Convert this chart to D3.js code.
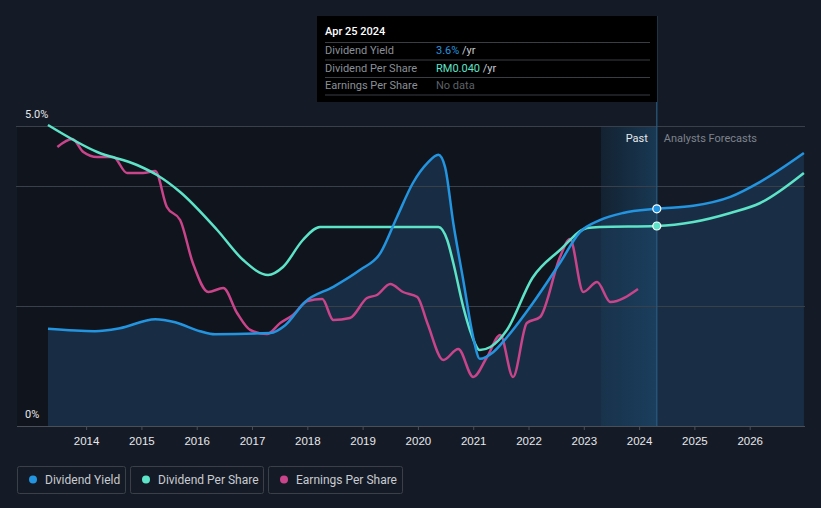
<!DOCTYPE html>
<html>
<head>
<meta charset="utf-8">
<script src="https://cdn.jsdelivr.net/npm/d3@7"></script>
<style>
  html, body { margin: 0; padding: 0; background: #151b26; }
  svg { display: block; font-family: Roboto, "Noto Sans", sans-serif; }
</style>
</head>
<body>
<svg id="chart" width="821" height="508"></svg>
<script>
// ---------- data (decimal years) ----------
const yieldYears = [2013.31, 2014.16, 2014.61, 2015.25, 2015.61, 2016.06, 2016.33, 2017.33, 2017.6, 2017.96, 2018.47, 2018.95, 2019.32, 2019.62, 2019.91, 2020.17, 2020.37, 2020.49, 2020.64, 2020.82, 2021.0, 2021.12, 2021.36, 2021.61, 2022.08, 2022.57, 2022.93, 2023.29, 2023.71, 2024.32, 2024.98, 2025.65, 2026.19, 2026.98];
const yieldValues = [1.62, 1.58, 1.63, 1.78, 1.73, 1.58, 1.53, 1.55, 1.68, 2.07, 2.32, 2.6, 2.88, 3.48, 4.05, 4.38, 4.52, 4.32, 3.38, 2.43, 1.48, 1.12, 1.23, 1.48, 2.05, 2.72, 3.23, 3.43, 3.55, 3.62, 3.67, 3.82, 4.07, 4.55];

const dpsYears = [2013.31, 2014.2, 2014.92, 2015.28, 2015.7, 2016.37, 2016.84, 2017.29, 2017.56, 2017.92, 2018.23, 2019.3, 2020.37, 2020.53, 2020.64, 2020.82, 2020.94, 2021.12, 2021.31, 2021.61, 2022.07, 2022.57, 2023.06, 2023.29, 2024.32, 2024.98, 2025.65, 2026.19, 2026.98];
const dpsValues = [0.0602, 0.0548, 0.0522, 0.0502, 0.0468, 0.0392, 0.0332, 0.0302, 0.0318, 0.0372, 0.0398, 0.0398, 0.0398, 0.0372, 0.0326, 0.0238, 0.0192, 0.0152, 0.0158, 0.0192, 0.0296, 0.0352, 0.0396, 0.0398, 0.040, 0.0408, 0.0426, 0.0446, 0.0506];

const epsYears = [2013.48, 2013.75, 2013.95, 2014.2, 2014.49, 2014.74, 2015.03, 2015.25, 2015.46, 2015.7, 2015.93, 2016.21, 2016.48, 2016.73, 2016.97, 2017.27, 2017.51, 2017.74, 2018.0, 2018.27, 2018.47, 2018.77, 2019.08, 2019.26, 2019.5, 2019.73, 2019.99, 2020.17, 2020.46, 2020.73, 2021.0, 2021.25, 2021.49, 2021.72, 2021.97, 2022.21, 2022.57, 2022.75, 2022.99, 2023.24, 2023.48, 2023.98];
const epsValues = [0.0558, 0.0574, 0.0548, 0.0538, 0.0538, 0.0506, 0.0506, 0.051, 0.0438, 0.0412, 0.0326, 0.0268, 0.0276, 0.0226, 0.0192, 0.0184, 0.0206, 0.0222, 0.025, 0.0254, 0.0212, 0.0216, 0.0256, 0.0262, 0.0284, 0.0268, 0.0258, 0.0206, 0.0132, 0.0154, 0.0098, 0.0138, 0.0182, 0.0098, 0.0206, 0.0218, 0.0338, 0.0374, 0.0268, 0.0288, 0.0248, 0.0274];

const xTickYears = [2014, 2015, 2016, 2017, 2018, 2019, 2020, 2021, 2022, 2023, 2024, 2025, 2026];
const yTickLabels = ["0%", "5.0%"];
const gridYieldValues = [5, 4, 2];
const tooltipDate = 2024.32;
const pastStart = 2023.31;
const legendLabels = ["Dividend Yield", "Dividend Per Share", "Earnings Per Share"];
const tooltipRows = [
  ["Dividend Yield", "3.6%", " /yr"],
  ["Dividend Per Share", "RM0.040", " /yr"],
  ["Earnings Per Share", "No data", ""]
];

// ---------- scales ----------
const colors = { yield: "#2394df", dps: "#5de3c8", eps: "#c9448a" };
const svg = d3.select("#chart");
const L = 17, R = 805, T = 126, B = 426;
const x = d3.scaleLinear().domain([2012.75, 2027.0]).range([L, R]);
const yY = d3.scaleLinear().domain([0, 5]).range([B, T]);
const yD = d3.scaleLinear().domain([0, 0.06]).range([B, T]);

const zip = (a, b) => a.map((v, i) => [v, b[i]]);
const yieldData = zip(yieldYears, yieldValues);
const dpsData = zip(dpsYears, dpsValues);
const epsData = zip(epsYears, epsValues);

const defs = svg.append("defs");
const pg = defs.append("linearGradient").attr("id", "pastGrad").attr("x1", 0).attr("x2", 1).attr("y1", 0).attr("y2", 0);
pg.append("stop").attr("offset", "0%").attr("stop-color", "#1a3d5c").attr("stop-opacity", 0.35);
pg.append("stop").attr("offset", "100%").attr("stop-color", "#1b4567").attr("stop-opacity", 0.75);

// background: past region darker
svg.append("rect").attr("x", L).attr("y", T).attr("width", x(tooltipDate) - L).attr("height", B - T).attr("fill", "#10141c");
svg.append("rect").attr("x", L).attr("y", 0).attr("width", x(tooltipDate) - L).attr("height", T).attr("fill", "#10141c").attr("opacity", 0);

// area under yield
const area = d3.area().x(d => x(d[0])).y0(B).y1(d => yY(d[1])).curve(d3.curveMonotoneX);
svg.append("path").datum(yieldData).attr("d", area).attr("fill", "#1b3550").attr("opacity", 0.75);

// past highlight band
svg.append("rect").attr("x", x(pastStart)).attr("y", T).attr("width", x(tooltipDate) - x(pastStart)).attr("height", B - T).attr("fill", "url(#pastGrad)");

// gridlines
svg.append("g").selectAll("line").data(gridYieldValues).join("line")
  .attr("x1", L - 1).attr("x2", R).attr("y1", d => yY(d) + 0.5).attr("y2", d => yY(d) + 0.5)
  .attr("stroke", "#3a4049").attr("stroke-width", 1);

// x axis
const xAxis = d3.axisBottom(x).tickValues(xTickYears).tickFormat(d3.format("d")).tickSize(4).tickPadding(4);
const gx = svg.append("g").attr("transform", `translate(0,${B})`).call(xAxis);
gx.select(".domain").attr("stroke", "#4a4f57").attr("d", `M${L},0.5H${R}`);
gx.selectAll(".tick line").attr("stroke", "#4a4f57").attr("y1", 0).attr("y2", 4);
gx.selectAll(".tick text").attr("fill", "#e6e8eb").attr("font-size", 11.5).attr("dy", "0.95em");

// vertical tooltip line
svg.append("line").attr("x1", x(tooltipDate)).attr("x2", x(tooltipDate)).attr("y1", 16).attr("y2", B)
  .attr("stroke", "#2a5a80").attr("stroke-width", 1.2);

// lines
const line = (ys) => d3.line().x(d => x(d[0])).y(d => ys(d[1])).curve(d3.curveMonotoneX);
svg.append("path").datum(epsData).attr("d", line(yD)).attr("fill", "none").attr("stroke", colors.eps).attr("stroke-width", 2.5);
svg.append("path").datum(dpsData).attr("d", line(yD)).attr("fill", "none").attr("stroke", colors.dps).attr("stroke-width", 2.5);
svg.append("path").datum(yieldData).attr("d", line(yY)).attr("fill", "none").attr("stroke", colors.yield).attr("stroke-width", 2.5);

// dots at tooltip date
const yieldAt = yieldValues[yieldYears.indexOf(tooltipDate)];
const dpsAt = dpsValues[dpsYears.indexOf(tooltipDate)];
svg.append("circle").attr("cx", x(tooltipDate)).attr("cy", yY(yieldAt)).attr("r", 4).attr("fill", colors.yield).attr("stroke", "#fff").attr("stroke-width", 1.2);
svg.append("circle").attr("cx", x(tooltipDate)).attr("cy", yD(dpsAt)).attr("r", 4).attr("fill", colors.dps).attr("stroke", "#fff").attr("stroke-width", 1.2);

// y labels
svg.append("text").attr("x", 25).attr("y", yY(5) - 8).attr("fill", "#e6e8eb").attr("font-size", 11).text(yTickLabels[1]);
svg.append("text").attr("x", 25).attr("y", yY(0) - 8).attr("fill", "#e6e8eb").attr("font-size", 11).text(yTickLabels[0]);

// past / forecast labels
svg.append("text").attr("x", x(tooltipDate) - 9).attr("y", 142).attr("text-anchor", "end").attr("fill", "#e6e8eb").attr("font-size", 11).text("Past");
svg.append("text").attr("x", x(tooltipDate) + 7).attr("y", 142).attr("fill", "#7d838d").attr("font-size", 11).text("Analysts Forecasts");

// tooltip
const tt = svg.append("g").attr("transform", "translate(317,16)");
tt.append("rect").attr("width", 340).attr("height", 86).attr("fill", "#000");
tt.append("text").attr("x", 8).attr("y", 19).attr("fill", "#fff").attr("font-size", 11).attr("font-weight", 500).text("Apr 25 2024");
const rowCol = ["#2394df", "#5de3c8", "#5c6068"];
[26, 43.5, 61, 78.5].forEach(yy => tt.append("line").attr("x1", 8).attr("x2", 333).attr("y1", yy + 0.5).attr("y2", yy + 0.5).attr("stroke", "#3a3d42"));
tooltipRows.forEach((r, i) => {
  const yy = 38 + i * 17.5;
  tt.append("text").attr("x", 8).attr("y", yy).attr("fill", "#8a8f97").attr("font-size", 11).text(r[0]);
  const t = tt.append("text").attr("x", 119).attr("y", yy).attr("font-size", 11);
  t.append("tspan").attr("fill", rowCol[i]).text(r[1]);
  t.append("tspan").attr("fill", "#c8cbd0").text(r[2]);
});

// legend
const legendX = [17, 130, 268], legendW = [108, 133, 134];
const legCols = [colors.yield, colors.dps, colors.eps];
legendLabels.forEach((lab, i) => {
  const g = svg.append("g").attr("transform", `translate(${legendX[i]},466)`);
  g.append("rect").attr("x", 0.5).attr("y", 0.5).attr("width", legendW[i]).attr("height", 27).attr("rx", 2).attr("fill", "none").attr("stroke", "#3a3f48");
  g.append("circle").attr("cx", 16).attr("cy", 13.5).attr("r", 4).attr("fill", legCols[i]);
  g.append("text").attr("x", 28).attr("y", 18).attr("fill", "#c8cbd0").attr("font-size", 12).text(lab);
});
</script>
</body>
</html>
